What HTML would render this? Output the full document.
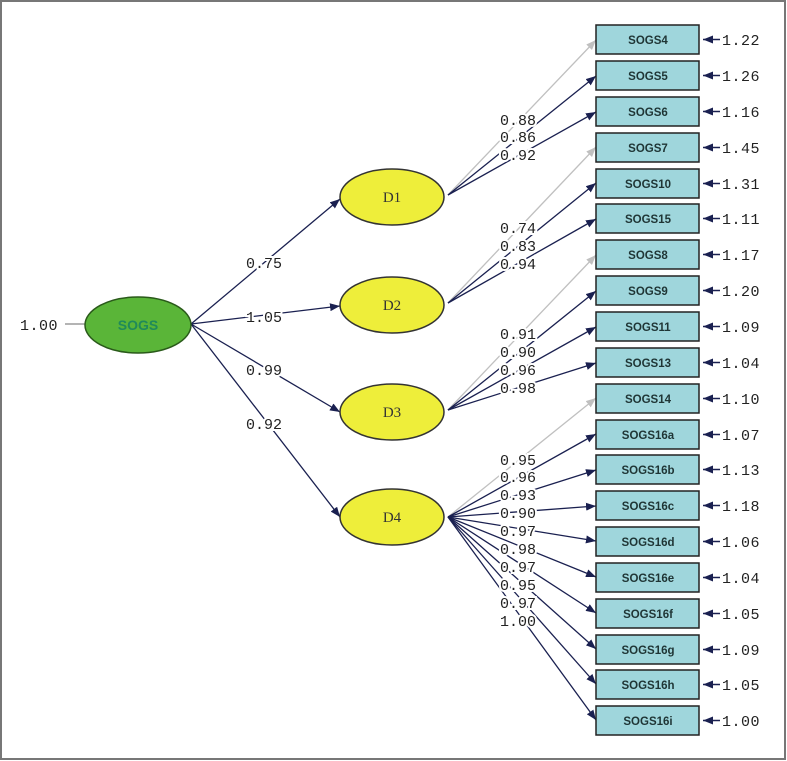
<!DOCTYPE html>
<html><head><meta charset="utf-8"><style>
html,body{margin:0;padding:0;background:#fff}
svg{display:block}
.m{font-family:"Liberation Mono",monospace;font-size:15px;fill:#222;letter-spacing:0.5px}
.lb{font-family:"Liberation Mono",monospace;font-size:15px;fill:#222;stroke:#fff;stroke-width:4px;paint-order:stroke}
.bx{font-family:"Liberation Sans",sans-serif;font-size:11.5px;font-weight:bold;fill:#1f3535;text-anchor:middle}
</style></head><body>
<svg width="787" height="761" viewBox="0 0 787 761" xmlns="http://www.w3.org/2000/svg">
<defs>
<marker id="a" markerWidth="10" markerHeight="8" refX="10" refY="4" orient="auto" markerUnits="userSpaceOnUse"><path d="M0,0 L10,4 L0,8 Z" fill="#1a2050"/></marker>
<marker id="g" markerWidth="10" markerHeight="8" refX="10" refY="4" orient="auto" markerUnits="userSpaceOnUse"><path d="M0,0 L10,4 L0,8 Z" fill="#c0c0c0"/></marker>
</defs>
<rect x="1" y="1" width="784" height="758" fill="#fff" stroke="#777" stroke-width="2"/>
<g stroke="#1a2050" stroke-width="1.3" fill="none">
<line x1="191" y1="324" x2="340" y2="199" marker-end="url(#a)"/>
<line x1="191" y1="324" x2="340" y2="306" marker-end="url(#a)"/>
<line x1="191" y1="324" x2="340" y2="412" marker-end="url(#a)"/>
<line x1="191" y1="324" x2="340" y2="517" marker-end="url(#a)"/>
<line x1="65" y1="324" x2="85" y2="324" stroke="#888"/>
<line x1="448" y1="195" x2="596" y2="40" stroke="#c0c0c0" marker-end="url(#g)"/>
<line x1="448" y1="195" x2="596" y2="76" marker-end="url(#a)"/>
<line x1="448" y1="195" x2="596" y2="112" marker-end="url(#a)"/>
<line x1="448" y1="303" x2="596" y2="147" stroke="#c0c0c0" marker-end="url(#g)"/>
<line x1="448" y1="303" x2="596" y2="183" marker-end="url(#a)"/>
<line x1="448" y1="303" x2="596" y2="219" marker-end="url(#a)"/>
<line x1="448" y1="410" x2="596" y2="255" stroke="#c0c0c0" marker-end="url(#g)"/>
<line x1="448" y1="410" x2="596" y2="291" marker-end="url(#a)"/>
<line x1="448" y1="410" x2="596" y2="327" marker-end="url(#a)"/>
<line x1="448" y1="410" x2="596" y2="363" marker-end="url(#a)"/>
<line x1="448" y1="517" x2="596" y2="398" stroke="#c0c0c0" marker-end="url(#g)"/>
<line x1="448" y1="517" x2="596" y2="434" marker-end="url(#a)"/>
<line x1="448" y1="517" x2="596" y2="470" marker-end="url(#a)"/>
<line x1="448" y1="517" x2="596" y2="506" marker-end="url(#a)"/>
<line x1="448" y1="517" x2="596" y2="541" marker-end="url(#a)"/>
<line x1="448" y1="517" x2="596" y2="577" marker-end="url(#a)"/>
<line x1="448" y1="517" x2="596" y2="613" marker-end="url(#a)"/>
<line x1="448" y1="517" x2="596" y2="649" marker-end="url(#a)"/>
<line x1="448" y1="517" x2="596" y2="684" marker-end="url(#a)"/>
<line x1="448" y1="517" x2="596" y2="720" marker-end="url(#a)"/>
</g>
<ellipse cx="138" cy="325" rx="53" ry="28" fill="#5ab538" stroke="#2a5a1a" stroke-width="1.5"/>
<text x="138" y="330" font-family="Liberation Sans,sans-serif" font-size="14" font-weight="bold" fill="#1f8a5a" text-anchor="middle">SOGS</text>
<g fill="#eeee3a" stroke="#333" stroke-width="1.5">
<ellipse cx="392" cy="197" rx="52" ry="28"/>
<ellipse cx="392" cy="305" rx="52" ry="28"/>
<ellipse cx="392" cy="412" rx="52" ry="28"/>
<ellipse cx="392" cy="517" rx="52" ry="28"/>
</g>
<g font-family="Liberation Serif,serif" font-size="15" fill="#333" text-anchor="middle">
<text x="392" y="202">D1</text><text x="392" y="310">D2</text><text x="392" y="417">D3</text><text x="392" y="522">D4</text>
</g>
<text class="lb" x="246" y="268">0.75</text>
<text class="lb" x="246" y="322">1.05</text>
<text class="lb" x="246" y="375">0.99</text>
<text class="lb" x="246" y="429">0.92</text>
<text class="m" x="20" y="330">1.00</text>
<g>
<text class="lb" x="500" y="125">0.88</text>
<text class="lb" x="500" y="142">0.86</text>
<text class="lb" x="500" y="160">0.92</text>
<text class="lb" x="500" y="233">0.74</text>
<text class="lb" x="500" y="251">0.83</text>
<text class="lb" x="500" y="269">0.94</text>
<text class="lb" x="500" y="339">0.91</text>
<text class="lb" x="500" y="357">0.90</text>
<text class="lb" x="500" y="375">0.96</text>
<text class="lb" x="500" y="393">0.98</text>
<text class="lb" x="500" y="465">0.95</text>
<text class="lb" x="500" y="482">0.96</text>
<text class="lb" x="500" y="500">0.93</text>
<text class="lb" x="500" y="518">0.90</text>
<text class="lb" x="500" y="536">0.97</text>
<text class="lb" x="500" y="554">0.98</text>
<text class="lb" x="500" y="572">0.97</text>
<text class="lb" x="500" y="590">0.95</text>
<text class="lb" x="500" y="608">0.97</text>
<text class="lb" x="500" y="626">1.00</text>
</g>
<g fill="#9fd6dc" stroke="#222" stroke-width="1.5">
<rect x="596" y="25" width="103" height="29"/><rect x="596" y="61" width="103" height="29"/><rect x="596" y="97" width="103" height="29"/><rect x="596" y="133" width="103" height="29"/><rect x="596" y="169" width="103" height="29"/>
<rect x="596" y="204" width="103" height="29"/><rect x="596" y="240" width="103" height="29"/><rect x="596" y="276" width="103" height="29"/><rect x="596" y="312" width="103" height="29"/><rect x="596" y="348" width="103" height="29"/>
<rect x="596" y="384" width="103" height="29"/><rect x="596" y="420" width="103" height="29"/><rect x="596" y="455" width="103" height="29"/><rect x="596" y="491" width="103" height="29"/><rect x="596" y="527" width="103" height="29"/>
<rect x="596" y="563" width="103" height="29"/><rect x="596" y="599" width="103" height="29"/><rect x="596" y="635" width="103" height="29"/><rect x="596" y="670" width="103" height="29"/><rect x="596" y="706" width="103" height="29"/>
</g>
<g class="bx">
<text x="648" y="44">SOGS4</text><text x="648" y="80">SOGS5</text><text x="648" y="116">SOGS6</text><text x="648" y="152">SOGS7</text><text x="648" y="188">SOGS10</text>
<text x="648" y="223">SOGS15</text><text x="648" y="259">SOGS8</text><text x="648" y="295">SOGS9</text><text x="648" y="331">SOGS11</text><text x="648" y="367">SOGS13</text>
<text x="648" y="403">SOGS14</text><text x="648" y="439">SOGS16a</text><text x="648" y="474">SOGS16b</text><text x="648" y="510">SOGS16c</text><text x="648" y="546">SOGS16d</text>
<text x="648" y="582">SOGS16e</text><text x="648" y="618">SOGS16f</text><text x="648" y="654">SOGS16g</text><text x="648" y="689">SOGS16h</text><text x="648" y="725">SOGS16i</text>
</g>
<g stroke="#1a2050" stroke-width="1.5" fill="none">
<line x1="720" y1="39.5" x2="703" y2="39.5" marker-end="url(#a)"/><line x1="720" y1="75.5" x2="703" y2="75.5" marker-end="url(#a)"/><line x1="720" y1="111.5" x2="703" y2="111.5" marker-end="url(#a)"/><line x1="720" y1="147.5" x2="703" y2="147.5" marker-end="url(#a)"/><line x1="720" y1="183.5" x2="703" y2="183.5" marker-end="url(#a)"/>
<line x1="720" y1="218.5" x2="703" y2="218.5" marker-end="url(#a)"/><line x1="720" y1="254.5" x2="703" y2="254.5" marker-end="url(#a)"/><line x1="720" y1="290.5" x2="703" y2="290.5" marker-end="url(#a)"/><line x1="720" y1="326.5" x2="703" y2="326.5" marker-end="url(#a)"/><line x1="720" y1="362.5" x2="703" y2="362.5" marker-end="url(#a)"/>
<line x1="720" y1="398.5" x2="703" y2="398.5" marker-end="url(#a)"/><line x1="720" y1="434.5" x2="703" y2="434.5" marker-end="url(#a)"/><line x1="720" y1="469.5" x2="703" y2="469.5" marker-end="url(#a)"/><line x1="720" y1="505.5" x2="703" y2="505.5" marker-end="url(#a)"/><line x1="720" y1="541.5" x2="703" y2="541.5" marker-end="url(#a)"/>
<line x1="720" y1="577.5" x2="703" y2="577.5" marker-end="url(#a)"/><line x1="720" y1="613.5" x2="703" y2="613.5" marker-end="url(#a)"/><line x1="720" y1="649.5" x2="703" y2="649.5" marker-end="url(#a)"/><line x1="720" y1="684.5" x2="703" y2="684.5" marker-end="url(#a)"/><line x1="720" y1="720.5" x2="703" y2="720.5" marker-end="url(#a)"/>
</g>
<g class="m">
<text x="722" y="45">1.22</text><text x="722" y="81">1.26</text><text x="722" y="117">1.16</text><text x="722" y="153">1.45</text><text x="722" y="189">1.31</text>
<text x="722" y="224">1.11</text><text x="722" y="260">1.17</text><text x="722" y="296">1.20</text><text x="722" y="332">1.09</text><text x="722" y="368">1.04</text>
<text x="722" y="404">1.10</text><text x="722" y="440">1.07</text><text x="722" y="475">1.13</text><text x="722" y="511">1.18</text><text x="722" y="547">1.06</text>
<text x="722" y="583">1.04</text><text x="722" y="619">1.05</text><text x="722" y="655">1.09</text><text x="722" y="690">1.05</text><text x="722" y="726">1.00</text>
</g>
</svg>
</body></html>
